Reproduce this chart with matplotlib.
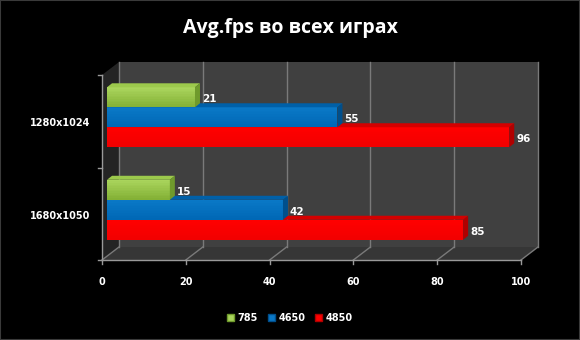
import matplotlib
matplotlib.use("Agg")
import numpy as np
import matplotlib.pyplot as plt
from matplotlib.colors import to_rgb
from matplotlib.patches import Polygon, Rectangle, Patch
from matplotlib.lines import Line2D
from matplotlib.transforms import IdentityTransform

# data
categories = ["1680x1050", "1280x1024"]  # bottom -> top
series_names = ["785", "4650", "4850"]
fps_785 = [15, 21]
fps_4650 = [42, 55]
fps_4850 = [85, 96]
x_ticks = [0, 20, 40, 60, 80, 100]

# front gradient (top, bottom), top face and side face colors per series
front_top = ["#a9d45c", "#0a78c6", "#ff0000"]
front_bot = ["#84b136", "#0068b6", "#f20000"]
top_colors = ["#9cc94c", "#0060a8", "#d40000"]
side_colors = ["#6f9a2c", "#004f8c", "#b00000"]

W, H = 580, 340
WALL = (17, 13)   # pixel depth of the back wall
BAR_OFF = (5, 4)  # bars sit a bit behind the front plane
BAR_D = (5, 4)    # bar thickness
BAR_H = 0.216

fig = plt.figure(figsize=(5.8, 3.4), dpi=100, facecolor="black")
ax = fig.add_axes([102 / W, 80 / H, 419 / W, 185 / H])
ax.set_xlim(0, 100)
ax.set_ylim(-0.5, 1.5)
ax.axis("off")
ident = IdentityTransform()


def pt(x, y, dx=0, dy=0):
    px, py = ax.transData.transform((x, y))
    return (px + dx, py + dy)


def poly(points, color, z):
    ax.add_patch(Polygon(points, closed=True, facecolor=color, edgecolor="none",
                         lw=0, transform=ident, clip_on=False, zorder=z))


def line(p1, p2, color="#8c8c8c", lw=1.0, z=2):
    ax.add_line(Line2D([p1[0], p2[0]], [p1[1], p2[1]], color=color, lw=lw,
                       transform=ident, clip_on=False, zorder=z))


y0, y1 = -0.5, 1.5
# walls
poly([pt(0, y0, *WALL), pt(100, y0, *WALL), pt(100, y1, *WALL), pt(0, y1, *WALL)], "#404040", 0)
poly([pt(0, y0), pt(0, y0, *WALL), pt(0, y1, *WALL), pt(0, y1)], "#242424", 0)
poly([pt(0, y0), pt(100, y0), pt(100, y0, *WALL), pt(0, y0, *WALL)], "#363636", 0)

# grid lines
for t in x_ticks:
    line(pt(t, y0, *WALL), pt(t, y1, *WALL), "#7a7a7a", 1.0, 1)
    line(pt(t, y0), pt(t, y0, *WALL), "#7a7a7a", 1.0, 1)
    line(pt(t, y0), pt(t, y0, 0, -4), "#9a9a9a", 1.0, 2)
    ax.text(*pt(t, y0, 0, -22), str(t), transform=ident, color="white",
            fontsize=7, fontweight="bold", ha="center", va="center")

# axis lines
line(pt(0, y0), pt(100, y0), "#9a9a9a", 1.0, 2)
line(pt(0, y0), pt(0, y1), "#9a9a9a", 1.0, 2)
for yy in [y0, 0.5, y1]:
    line(pt(0, yy, -4, 0), pt(0, yy), "#9a9a9a", 1.0, 2)

for i, cat in enumerate(categories):
    ax.text(*pt(0, i, -12, -2), cat, transform=ident, color="white",
            fontsize=7, fontweight="bold", ha="right", va="center")

# bars, drawn back-to-front: red first so the ones above cover its top face
all_values = [fps_785, fps_4650, fps_4850]
n_strips = 12
for i in range(len(categories)):
    for j in [2, 1, 0]:
        v = all_values[j][i]
        yc = i + (1 - j) * BAR_H
        yb, yt = yc - BAR_H / 2, yc + BAR_H / 2
        bx, by = BAR_OFF
        dx, dy = BAR_D
        z = 5 + (2 - j)
        # front face as a vertical gradient
        c_top, c_bot = np.array(to_rgb(front_top[j])), np.array(to_rgb(front_bot[j]))
        edges = np.linspace(yt, yb, n_strips + 1)
        for k in range(n_strips):
            f = k / (n_strips - 1)
            col = c_top * (1 - f) + c_bot * f
            poly([pt(0, edges[k + 1], bx, by), pt(v, edges[k + 1], bx, by),
                  pt(v, edges[k], bx, by), pt(0, edges[k], bx, by)], col, z)
        poly([pt(0, yt, bx, by), pt(v, yt, bx, by), pt(v, yt, bx + dx, by + dy),
              pt(0, yt, bx + dx, by + dy)], top_colors[j], z)
        poly([pt(v, yb, bx, by), pt(v, yb, bx + dx, by + dy), pt(v, yt, bx + dx, by + dy),
              pt(v, yt, bx, by)], side_colors[j], z)
        ax.text(*pt(v, yc, bx + dx + 2, by - 2), str(v), transform=ident,
                color="white", fontsize=7.5, fontweight="bold", ha="left",
                va="center", zorder=10)

fig.text(0.5, 1 - 28 / H, "Avg.fps во всех играх", color="white",
         fontfamily="Open Sans", fontweight="bold", fontsize=14,
         ha="center", va="center")

handles = [Patch(facecolor=front_top[k], edgecolor=side_colors[k], label=series_names[k])
           for k in range(3)]
fig.legend(handles=handles, loc="center", bbox_to_anchor=(0.5, 1 - 318 / H), ncol=3,
           frameon=False, labelcolor="white", prop={"size": 7, "weight": "bold"},
           handlelength=0.7, handleheight=0.7, handletextpad=0.4, columnspacing=1.0)

fig.add_artist(Rectangle((0, 0), 1, 1, transform=fig.transFigure, fill=False,
                         edgecolor="#3a3a3a", lw=1.5))

fig.savefig("out.png", dpi=100, facecolor="black")
